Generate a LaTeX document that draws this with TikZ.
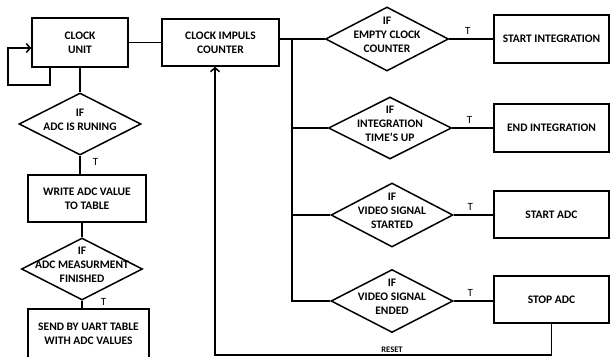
\documentclass[tikz,border=0pt]{standalone}
\usepackage{fontspec}
\setmainfont{Carlito}
\usetikzlibrary{shapes.geometric}
\usetikzlibrary{arrows.meta}
\usetikzlibrary{positioning}

\newcommand{\iftext}[1]{\smash{\makebox[0pt]{\begin{tabular}{@{}c@{}}#1\end{tabular}}}}

\tikzset{
  block/.style={draw, line width=1.5pt, align=center, inner sep=0pt,
    font=\bfseries\fontsize{11.5}{14}\selectfont},
  decision/.style={draw, diamond, line width=1.5pt, inner sep=0pt,
    font=\bfseries\fontsize{11.5}{14}\selectfont},
  flow/.style={line width=1.5pt},
  tlabel/.style={font=\fontsize{11}{12}\selectfont, inner sep=1pt},
  back/.style={-{Straight Barb[length=4pt,width=9pt]}}
}

\begin{document}
\begin{tikzpicture}[x=1pt, y=-1pt]
  \useasboundingbox (0,0) rectangle (610,356);
  \clip (0,0) rectangle (610,356);

  % Left column
  \node[block, minimum width=96pt, minimum height=49pt] (clock) at (80,42.5) {CLOCK\\UNIT};
  \node[decision, minimum width=122pt, minimum height=62pt] (adcrun) at (80,124) {\iftext{IF\\ADC IS RUNING}};
  \node[block, minimum width=118pt, minimum height=47pt] (write) at (87,198.5) {WRITE ADC VALUE\\TO TABLE};
  \node[decision, minimum width=121pt, minimum height=62pt] (adcend) at (82,269) {\iftext{IF\\ADC MEASURMENT\\FINISHED}};
  \node[block, minimum width=121pt, minimum height=50pt] (send) at (88.5,334) {SEND BY UART TABLE\\WITH ADC VALUES};

  % Counter
  \node[block, minimum width=117pt, minimum height=47pt] (counter) at (220.5,42.5) {CLOCK IMPULS\\COUNTER};

  % Conditions on the counter
  \node[decision, minimum width=123pt, minimum height=64pt] (empty) at (387,39) {\iftext{IF\\EMPTY CLOCK\\COUNTER}};
  \node[decision, minimum width=123pt, minimum height=62pt] (inttime) at (390,128) {\iftext{IF\\INTEGRATION\\TIME'S UP}};
  \node[decision, minimum width=122pt, minimum height=64pt] (vstart) at (392,215) {\iftext{IF\\VIDEO SIGNAL\\STARTED}};
  \node[decision, minimum width=122pt, minimum height=63pt] (vend) at (392,301) {\iftext{IF\\VIDEO SIGNAL\\ENDED}};

  % Actions
  \node[block, minimum width=115pt, minimum height=48pt] (intstart) at (551.5,39) {START INTEGRATION};
  \node[block, minimum width=115pt, minimum height=48pt] (intend) at (551.5,128) {END INTEGRATION};
  \node[block, minimum width=115pt, minimum height=47pt] (adcstart) at (551.5,214.5) {START ADC};
  \node[block, minimum width=115pt, minimum height=47pt] (adcstop) at (551.5,299.5) {STOP ADC};

  % Left flow
  \draw[flow] (clock) -- (counter);
  \draw[flow, back] ([xshift=-30pt]clock.south) |- ++(-42,17) |- ([yshift=-5.5pt]clock.west);
  \draw[flow] (clock) -- (adcrun);
  \draw[flow] (adcrun.south) -- node[tlabel, right=11pt, pos=0.35] {T} (adcrun.south |- write.north);
  \draw[flow] (adcend.north |- write.south) -- (adcend.north);
  \draw[flow] (adcend.south) -- node[tlabel, right=17pt, pos=0.1] {T} (adcend.south |- send.north);

  % Bus to the conditions
  \draw[flow] ([yshift=3.5pt]counter.east) -- (empty.west);
  \coordinate (bus) at (292,39);
  \draw[flow] (bus) |- (vend.west);
  \foreach \d in {inttime, vstart}
    \draw[flow] (bus |- \d.west) -- (\d.west);

  % True branches
  \foreach \d/\b in {empty/intstart, inttime/intend, vstart/adcstart, vend/adcstop}
    \draw[flow] (\d.east) -- node[tlabel, above=3pt, pos=0.42] {T} (\d.east -| \b.west);

  % Reset back to the counter
  \draw[flow, back] (adcstop.south) -- ++(0,31) -| node[pos=0.237, above, inner sep=1pt, font=\bfseries\fontsize{8.5}{10}\selectfont] {RESET} ([xshift=-5.5pt]counter.south);
\end{tikzpicture}
\end{document}
